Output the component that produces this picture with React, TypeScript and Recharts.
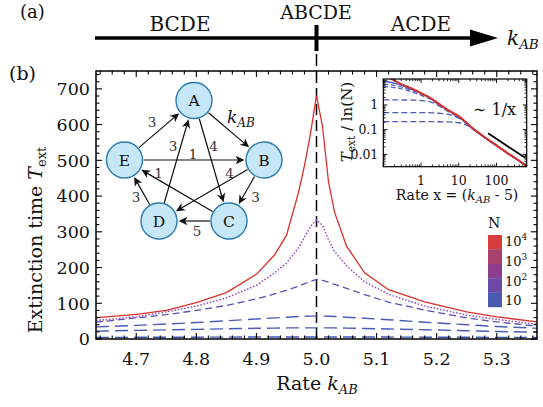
import React from 'react';
import { LineChart, Line, XAxis, YAxis, ReferenceLine } from 'recharts';

const FONT = "'DejaVu Serif', serif";

// ---------------- main panel (b) data ----------------
const kValues = [4.633, 4.65, 4.70, 4.75, 4.80, 4.85, 4.90, 4.93, 4.95, 4.97, 4.98, 4.99, 5.00, 5.01, 5.02, 5.03, 5.05, 5.08, 5.12, 5.18, 5.25, 5.30, 5.367];
const tN10000 = [60, 62, 69, 80, 102, 130, 181, 235, 290, 410, 485, 575, 681, 595, 440, 355, 260, 185, 138, 104, 76, 62, 48];
const tN1000 = [52, 54, 62, 76, 92, 115, 150, 185, 212, 255, 285, 315, 333, 318, 278, 245, 205, 160, 125, 92, 67, 55, 41];
const tN100 = [47, 50, 59, 68, 80, 94, 112, 126, 136, 148, 155, 161, 167, 164, 159, 153, 142, 124, 103, 81, 59, 48, 36];
const tN30 = [34, 35, 38, 42, 46, 51, 56, 59, 61, 63, 63.5, 64, 64, 64, 63.5, 63, 61, 58, 54, 47, 40, 35, 30];
const tN15 = [22, 22.5, 24, 25.5, 27, 28.5, 30, 30.5, 31, 31, 31, 31, 31, 31, 31, 31, 30.5, 29.5, 28, 26, 23, 21, 19];
const tN10 = [4.4, 4.5, 4.7, 4.9, 5.1, 5.3, 5.5, 5.6, 5.7, 5.8, 5.8, 5.8, 5.8, 5.8, 5.8, 5.8, 5.7, 5.6, 5.4, 5.1, 4.8, 4.6, 4.3];

const xMajorTicks = [4.7, 4.8, 4.9, 5.0, 5.1, 5.2, 5.3];
const yMajorTicks = [0, 100, 200, 300, 400, 500, 600, 700];
const X_DOMAIN: [number, number] = [4.633, 5.367];
const Y_DOMAIN: [number, number] = [0, 750];

// ---------------- inset data ----------------
const insetX = [0.1, 0.15, 0.2, 0.3, 0.5, 0.7, 1, 1.5, 2, 3, 5, 7, 10, 12, 15, 20, 30, 50, 100, 200, 400, 630];
const insetN10000 = [15, 12, 9.6, 7.0, 5.0, 4.0, 3.0, 2.2, 1.7, 1.1, 0.65, 0.48, 0.35, 0.28, 0.21, 0.14, 0.085, 0.048, 0.023, 0.011, 0.0055, 0.0034];
const insetN1000 = [9.3, 8.3, 7.5, 6.2, 4.6, 3.8, 2.9, 2.15, 1.65, 1.08, 0.63, 0.47, 0.34, 0.275, 0.205, 0.138, 0.084, 0.047, 0.0228, 0.0109, 0.0054, 0.0034];
const insetN300 = [6.9, 6.5, 6.1, 5.3, 4.1, 3.4, 2.7, 2.05, 1.58, 1.04, 0.61, 0.46, 0.33, 0.27, 0.2, 0.136, 0.083, 0.047, 0.0226, 0.0108, 0.0054, 0.0034];
const insetN100 = [5.5, 5.3, 5.0, 4.5, 3.6, 3.0, 2.45, 1.9, 1.5, 1.0, 0.6, 0.45, 0.32, 0.265, 0.198, 0.135, 0.083, 0.047, 0.0225, 0.0108, 0.0054, 0.0034];
const insetN30 = [1.6, 1.6, 1.6, 1.59, 1.57, 1.55, 1.5, 1.4, 1.25, 0.92, 0.57, 0.43, 0.31, 0.26, 0.195, 0.133, 0.082, 0.046, 0.0224, 0.0107, 0.0054, 0.0034];
const insetN15 = [0.49, 0.49, 0.49, 0.49, 0.49, 0.49, 0.488, 0.485, 0.48, 0.46, 0.42, 0.37, 0.29, 0.25, 0.19, 0.13, 0.081, 0.046, 0.0223, 0.0107, 0.0054, 0.0034];
const insetN10 = [0.21, 0.21, 0.21, 0.21, 0.21, 0.21, 0.21, 0.21, 0.21, 0.208, 0.205, 0.2, 0.19, 0.18, 0.16, 0.125, 0.08, 0.046, 0.0222, 0.0107, 0.0054, 0.0034];
const guideX = [60, 575];
const guideY = [0.071, 0.0072];
const insetXMajor = [1, 10, 100];
const insetYMajor = [0.01, 0.1, 1, 10];
const insetXLabels = ['1', '10', '100'];
const insetYLabels = ['0.01', '0.1', '1', ''];
const INSET_X_DOMAIN: [number, number] = [0.1, 631];
const INSET_Y_DOMAIN: [number, number] = [0.00316, 11.2];

// colour bar legend
const legendColors = ['#d63c3c', '#a8416b', '#8c3d8c', '#6a4aa5', '#4a5cb0'];
const legendLabels = [['10', '4'], ['10', '3'], ['10', '2'], ['10', '']];

// network
const nodes: Record<string, [number, number]> = {
  A: [194, 100.5], B: [264, 160], C: [229, 221], D: [159, 221], E: [124.5, 160],
};
const edges: [string, string, string, number, number][] = [
  ['E', 'A', '3', 152, 122],
  ['A', 'B', '', 0, 0],
  ['D', 'A', '3', 173, 146],
  ['A', 'C', '4', 213.5, 146],
  ['E', 'B', '1', 193, 154],
  ['B', 'D', '4', 229.5, 173],
  ['C', 'E', '1', 158.5, 173],
  ['B', 'C', '3', 255.5, 197],
  ['D', 'E', '3', 136, 197],
  ['C', 'D', '5', 197, 231],
];

// ---------------- layout ----------------
const W = 543, H = 407;
const PLOT = { left: 96, right: 537, top: 71, bottom: 339 };
const INSET = { left: 350, top: 70, width: 185, height: 140 };
const IP = { left: 33.3, right: 176.7, top: 9, bottom: 96.7 };

const mainRows = kValues.map((k, i) => ({
  k, n4: tN10000[i], n3: tN1000[i], n2: tN100[i], n15: tN30[i], n12: tN15[i], n1: tN10[i],
}));
const insetRows = insetX.map((x, i) => ({
  x, s1: insetN10000[i], s2: insetN1000[i], s3: insetN300[i], s4: insetN100[i], s5: insetN30[i], s6: insetN15[i], s7: insetN10[i],
}));
const guideRows = guideX.map((x, i) => ({ x, g: guideY[i] }));

const xAllTicks: number[] = [];
for (let i = 0; ; i++) { const v = Math.round((4.64 + 0.02 * i) * 100) / 100; if (v > 5.36) break; xAllTicks.push(v); }
const yAllTicks: number[] = [];
for (let v = 0; v <= 740; v += 20) yAllTicks.push(v);

const insetXTicks: number[] = [];
[0.1, 1, 10, 100].forEach((d) => { for (let m = 1; m <= 9; m++) { const v = +(d * m).toPrecision(3); if (v <= 631) insetXTicks.push(v); } });
const insetYTicks: number[] = [];
[0.001, 0.01, 0.1, 1, 10].forEach((d) => { for (let m = 1; m <= 9; m++) { const v = +(d * m).toPrecision(3); if (v >= 0.00316 && v <= 11.2) insetYTicks.push(v); } });

function MainXTick(props: any) {
  const { x, y, payload } = props;
  const v = payload.value;
  const major = xMajorTicks.some((t) => Math.abs(t - v) < 1e-6);
  const len = major ? 6 : 3.5;
  return (
    <g>
      <line x1={x} x2={x} y1={y} y2={y - len} stroke="#000" strokeWidth={1.1} />
      <line x1={x} x2={x} y1={PLOT.top} y2={PLOT.top + len} stroke="#000" strokeWidth={1.1} />
      {major && (
        <text x={x} y={y + 26} textAnchor="middle" fontSize={17.5} fontFamily={FONT} fill="#111">{v.toFixed(1)}</text>
      )}
    </g>
  );
}

function MainYTick(props: any) {
  const { x, y, payload } = props;
  const v = payload.value;
  const major = yMajorTicks.includes(v);
  const len = major ? 6 : 3.5;
  return (
    <g>
      <line x1={x} x2={x + len} y1={y} y2={y} stroke="#000" strokeWidth={1.1} />
      <line x1={PLOT.right - len} x2={PLOT.right} y1={y} y2={y} stroke="#000" strokeWidth={1.1} />
      {major && (
        <text x={x - 6} y={y + 6.3} textAnchor="end" fontSize={17.5} fontFamily={FONT} fill="#111">{String(v)}</text>
      )}
    </g>
  );
}

function InsetXTick(props: any) {
  const { x, y, payload } = props;
  const v = payload.value;
  const idx = insetXMajor.indexOf(v);
  const major = idx >= 0 || v === 0.1;
  const len = major ? 4 : 2.2;
  return (
    <g>
      <line x1={x} x2={x} y1={y} y2={y - len} stroke="#000" strokeWidth={0.9} />
      <line x1={x} x2={x} y1={IP.top} y2={IP.top + len} stroke="#000" strokeWidth={0.9} />
      {idx >= 0 && (
        <text x={x} y={y + 18} textAnchor="middle" fontSize={12.5} fontFamily={FONT} fill="#111">{insetXLabels[idx]}</text>
      )}
    </g>
  );
}

function InsetYTick(props: any) {
  const { x, y, payload } = props;
  const v = payload.value;
  const idx = insetYMajor.indexOf(v);
  const len = idx >= 0 ? 4 : 2.2;
  return (
    <g>
      <line x1={x} x2={x + len} y1={y} y2={y} stroke="#000" strokeWidth={0.9} />
      <line x1={IP.right - len} x2={IP.right} y1={y} y2={y} stroke="#000" strokeWidth={0.9} />
      {idx >= 0 && insetYLabels[idx] && (
        <text x={x - 5} y={y + 4.5} textAnchor="end" fontSize={12.5} fontFamily={FONT} fill="#111">{insetYLabels[idx]}</text>
      )}
    </g>
  );
}

function Arrow({ from, to }: { from: [number, number]; to: [number, number] }) {
  const r = 18;
  const dx = to[0] - from[0], dy = to[1] - from[1];
  const L = Math.hypot(dx, dy);
  const ux = dx / L, uy = dy / L;
  const sx = from[0] + ux * (r + 1), sy = from[1] + uy * (r + 1);
  const tx = to[0] - ux * (r + 1.5), ty = to[1] - uy * (r + 1.5);
  const hl = 9, hw = 4.2;
  const bx = tx - ux * hl, by = ty - uy * hl;
  const px = -uy, py = ux;
  const nx = bx + ux * 2.5, ny = by + uy * 2.5;
  return (
    <g>
      <line x1={sx} y1={sy} x2={nx} y2={ny} stroke="#111" strokeWidth={1.2} />
      <polygon
        points={`${tx},${ty} ${bx + px * hw},${by + py * hw} ${nx},${ny} ${bx - px * hw},${by - py * hw}`}
        fill="#111"
      />
    </g>
  );
}

function Overlay() {
  return (
    <svg width={W} height={H} style={{ position: 'absolute', left: 0, top: 0, pointerEvents: 'none' }} fontFamily={FONT}>
      {/* panel (a) */}
      <text x={20} y={18} fontSize={18} fontFamily={FONT} fill="#111">(a)</text>
      <line x1={95} y1={38} x2={472} y2={38} stroke="#000" strokeWidth={3.5} />
      <polygon points="470,29.5 498,38 470,46.5" fill="#000" />
      <line x1={316.5} y1={25} x2={316.5} y2={51} stroke="#000" strokeWidth={4} />
      <line x1={316.5} y1={54} x2={316.5} y2={66} stroke="#000" strokeWidth={1.5} />
      <text x={180} y={31} fontSize={20} textAnchor="middle" fill="#111">BCDE</text>
      <text x={316} y={19} fontSize={19} textAnchor="middle" fill="#111">ABCDE</text>
      <text x={421} y={31} fontSize={20} textAnchor="middle" fill="#111">ACDE</text>
      <text x={507} y={45} fontSize={20} fontStyle="italic" fill="#111">k<tspan fontSize={13.5} dy={4}>AB</tspan></text>

      {/* panel (b) labels */}
      <text x={9} y={80} fontSize={19} fill="#111">(b)</text>
      <text x={41.5} y={240} transform="rotate(-90 41.5 240)" textAnchor="middle" fontSize={19} fill="#111">
        Extinction time <tspan fontStyle="italic">T</tspan><tspan fontSize={13} dy={4}>ext</tspan>
      </text>
      <text x={317} y={390} textAnchor="middle" fontSize={19} fill="#111">
        Rate <tspan fontStyle="italic">k</tspan><tspan fontStyle="italic" fontSize={13} dy={4}>AB</tspan>
      </text>

      {/* frames */}
      <rect x={PLOT.left} y={PLOT.top} width={PLOT.right - PLOT.left} height={PLOT.bottom - PLOT.top} fill="none" stroke="#000" strokeWidth={1.5} />
      <rect x={INSET.left + IP.left} y={INSET.top + IP.top} width={IP.right - IP.left} height={IP.bottom - IP.top} fill="none" stroke="#000" strokeWidth={1.2} />

      {/* inset labels */}
      <text x={352} y={122} transform="rotate(-90 352 122)" textAnchor="middle" fontSize={15} fill="#111">
        <tspan fontStyle="italic">T</tspan><tspan fontSize={10.5} dy={3}>ext</tspan><tspan dy={-3}> / ln(N)</tspan>
      </text>
      <text x={457} y={200} textAnchor="middle" fontSize={14} fill="#111">
        Rate x = (<tspan fontStyle="italic">k</tspan><tspan fontStyle="italic" fontSize={10} dy={3}>AB</tspan><tspan dy={-3}> - 5)</tspan>
      </text>
      <text x={473} y={115} fontSize={16} fill="#111">∼ 1/x</text>

      {/* network */}
      {edges.map(([f, t]) => (
        <Arrow key={f + t} from={nodes[f]} to={nodes[t]} />
      ))}
      {edges.filter((e) => e[2]).map(([f, t, lab, lx, ly]) => (
        <text key={'l' + f + t} x={lx} y={ly} textAnchor="middle" dominantBaseline="central" fontSize={13.5} fill="#333">{lab}</text>
      ))}
      <text x={227} y={123} fontSize={17} fontStyle="italic" fill="#111">k<tspan fontSize={12} dy={4}>AB</tspan></text>
      {Object.entries(nodes).map(([name, [cx, cy]]) => (
        <g key={name}>
          <circle cx={cx} cy={cy} r={18} fill="#c6e7f7" stroke="#2c7bb0" strokeWidth={1.4} />
          <text x={cx} y={cy + 5.5} textAnchor="middle" fontSize={15.5} fill="#111">{name}</text>
        </g>
      ))}

      {/* colour bar legend */}
      <text x={494} y={228} textAnchor="middle" fontSize={14} fill="#111">N</text>
      {legendColors.map((c, i) => (
        <rect key={c} x={488} y={235 + i * 14.4} width={14} height={14.6} fill={c} />
      ))}
      {legendLabels.map(([b, s], i) => (
        <text key={i} x={505} y={[246, 266, 286, 305][i]} fontSize={13} fill="#111">
          {b}{s && <tspan fontSize={9} dy={-6}>{s}</tspan>}
        </text>
      ))}
    </svg>
  );
}

export default function App() {
  return (
    <div style={{ position: 'absolute', left: 0, top: 0, width: W, height: H, background: '#fff' }}>
      <div style={{ position: 'absolute', left: 0, top: 0 }}>
        <LineChart width={W} height={H} data={mainRows} margin={{ top: 71, right: 6, bottom: 18, left: 36 }}>
          <XAxis dataKey="k" type="number" domain={X_DOMAIN} allowDataOverflow ticks={xAllTicks} interval={0}
            tickSize={0} tickMargin={0} axisLine={false} tickLine={false} tick={MainXTick} height={50} />
          <YAxis type="number" domain={Y_DOMAIN} allowDataOverflow ticks={yAllTicks} interval={0}
            tickSize={0} tickMargin={0} axisLine={false} tickLine={false} tick={MainYTick} width={60} />
          <ReferenceLine x={5} stroke="#000" strokeWidth={1.5} strokeDasharray="11 5" />
          <Line dataKey="n1" type="linear" stroke="#3f55b0" strokeWidth={1.4} strokeDasharray="13 6" dot={false} isAnimationActive={false} />
          <Line dataKey="n12" type="linear" stroke="#4a5cb5" strokeWidth={1.4} strokeDasharray="13 6" dot={false} isAnimationActive={false} />
          <Line dataKey="n15" type="linear" stroke="#4a5cb5" strokeWidth={1.4} strokeDasharray="13 6" dot={false} isAnimationActive={false} />
          <Line dataKey="n2" type="linear" stroke="#5a4fb8" strokeWidth={1.3} strokeDasharray="7 4" dot={false} isAnimationActive={false} />
          <Line dataKey="n3" type="linear" stroke="#8a4cc4" strokeWidth={1.5} strokeDasharray="1.5 1.8" dot={false} isAnimationActive={false} />
          <Line dataKey="n4" type="linear" stroke="#d9302c" strokeWidth={1.3} dot={false} isAnimationActive={false} />
        </LineChart>
      </div>
      <div style={{ position: 'absolute', left: INSET.left, top: INSET.top }}>
        <LineChart width={INSET.width} height={INSET.height} data={insetRows} margin={{ top: 9, right: 8.3, bottom: 13.3, left: 3.3 }}>
          <XAxis dataKey="x" type="number" scale="log" domain={INSET_X_DOMAIN} allowDataOverflow ticks={insetXTicks} interval={0}
            tickSize={0} tickMargin={0} axisLine={false} tickLine={false} tick={InsetXTick} height={30} />
          <YAxis type="number" scale="log" domain={INSET_Y_DOMAIN} allowDataOverflow ticks={insetYTicks} interval={0}
            tickSize={0} tickMargin={0} axisLine={false} tickLine={false} tick={InsetYTick} width={30} />
          <Line dataKey="s7" type="monotone" stroke="#4a5cb5" strokeWidth={1.3} strokeDasharray="6 3" dot={false} isAnimationActive={false} />
          <Line dataKey="s6" type="monotone" stroke="#4a5cb5" strokeWidth={1.3} strokeDasharray="6 3" dot={false} isAnimationActive={false} />
          <Line dataKey="s5" type="monotone" stroke="#4a5cb5" strokeWidth={1.3} strokeDasharray="6 3" dot={false} isAnimationActive={false} />
          <Line dataKey="s4" type="monotone" stroke="#5060bb" strokeWidth={1.2} strokeDasharray="5 2.5" dot={false} isAnimationActive={false} />
          <Line dataKey="s3" type="monotone" stroke="#5060bb" strokeWidth={1.2} strokeDasharray="5 2.5" dot={false} isAnimationActive={false} />
          <Line dataKey="s2" type="monotone" stroke="#4a5cb5" strokeWidth={1.5} dot={false} isAnimationActive={false} />
          <Line dataKey="s1" type="monotone" stroke="#d9302c" strokeWidth={2} dot={false} isAnimationActive={false} />
          <Line data={guideRows} dataKey="g" type="linear" stroke="#000" strokeWidth={1.8} dot={false} isAnimationActive={false} />
        </LineChart>
      </div>
      <Overlay />
    </div>
  );
}
